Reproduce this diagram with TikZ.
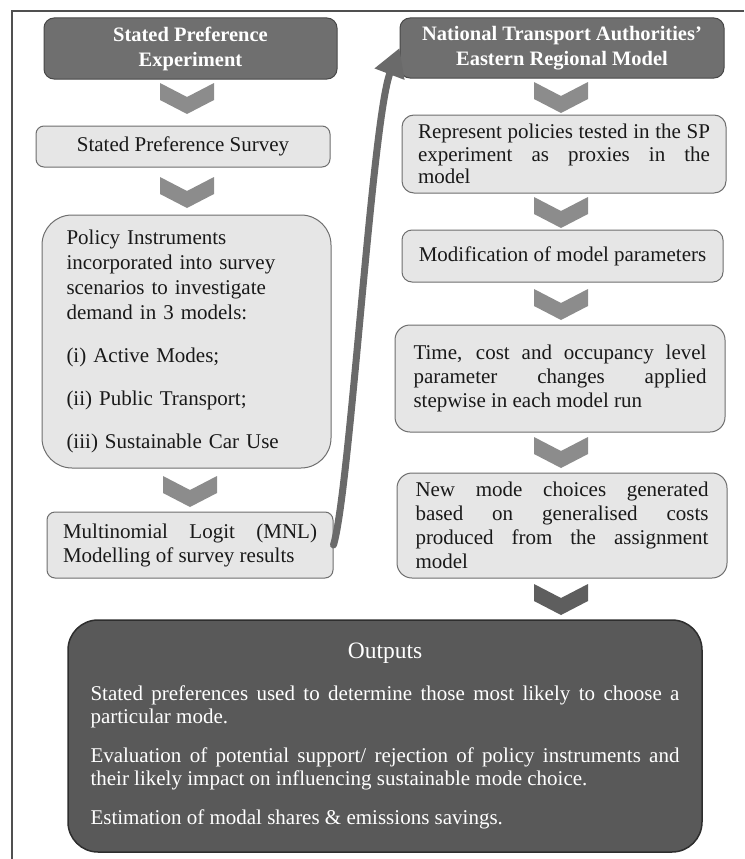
\documentclass[tikz,border=0pt]{standalone}
\usepackage{fontspec}
\setmainfont{Liberation Serif}
\usetikzlibrary{arrows.meta}

\definecolor{darkbox}{HTML}{6F6F6F}
\definecolor{darkedge}{HTML}{484848}
\definecolor{lightbox}{HTML}{E6E6E6}
\definecolor{lightedge}{HTML}{6E6E6E}
\definecolor{chevgray}{HTML}{8C8C8C}
\definecolor{chevdark}{HTML}{5E5E5E}
\definecolor{outfill}{HTML}{595959}
\definecolor{outedge}{HTML}{2E2E2E}
\definecolor{arrowgray}{HTML}{6A6A6A}
\definecolor{framegray}{HTML}{505050}

\tikzset{
  base/.style={draw, line width=1pt, inner sep=0pt},
  headbox/.style={base, fill=darkbox, draw=darkedge, text=white,
    font=\bfseries\fontsize{20.5}{25}\selectfont, align=center, rounded corners=10pt},
  stepbox/.style={base, fill=lightbox, draw=lightedge, text=black!90,
    font=\fontsize{21}{24}\selectfont},
  outbox/.style={base, fill=outfill, draw=outedge, line width=1.5pt, text=white,
    font=\fontsize{21}{23}\selectfont, rounded corners=30pt},
  framerule/.style={draw=framegray, line width=1.6pt},
  connector/.style={draw=arrowgray, line width=7pt, line cap=round,
    -{Triangle[length=28pt,width=30pt]}},
  chevron/.pic={
    \fill[pic actions] (-27,0) -- (0,14) -- (27,0) -- (27,17) -- (0,31) -- (-27,17) -- cycle;
  },
}

\begin{document}
\begin{tikzpicture}[x=1pt, y=-1pt]
\useasboundingbox (0,0) rectangle (744,859);

% outer frame (top and left rules)
\draw[framerule] (744,11) -- (12,11) -- (12,859);

% left column
\node[headbox, minimum width=293pt, minimum height=61pt] (A) at (190.5,48.5)
  {Stated Preference\\Experiment};
\node[stepbox, rounded corners=8pt, minimum width=294pt, minimum height=41pt] (B) at (183,146.5)
  {Stated Preference Survey};
\node[stepbox, rounded corners=30pt, minimum width=289pt, minimum height=253pt,
      text width=240pt, align=left, font=\fontsize{21}{25}\selectfont] (C) at (186.5,341.5)
  {Policy Instruments\\incorporated into survey\\scenarios to investigate\\demand in 3 models:\\[18pt]
   (i) Active Modes;\\[18pt](ii) Public Transport;\\[18pt](iii) Sustainable Car Use};
\node[stepbox, rounded corners=8pt, minimum width=286pt, minimum height=66pt,
      text width=254pt, align=justify] (D) at (190,545)
  {Multinomial Logit (MNL)\linebreak Modelling of survey results};

% right column
\node[headbox, minimum width=324pt, minimum height=60pt] (E) at (562,48)
  {National Transport Authorities’\\Eastern Regional Model};
\node[stepbox, rounded corners=12pt, minimum width=324pt, minimum height=78pt,
      text width=292pt, align=justify, font=\fontsize{21}{22.5}\selectfont] (F) at (564,154)
  {Represent policies tested in the SP\linebreak experiment as proxies in the\linebreak model};
\node[stepbox, rounded corners=10pt, minimum width=321pt, minimum height=52pt] (G) at (562.5,256)
  {Modification of model parameters};
\node[stepbox, rounded corners=15pt, minimum width=330pt, minimum height=107pt,
      text width=293pt, align=justify] (H) at (560,378.5)
  {Time, cost and occupancy level\linebreak parameter changes applied\linebreak stepwise in each model run};
\node[stepbox, rounded corners=15pt, minimum width=330pt, minimum height=105pt,
      text width=293pt, align=justify] (I) at (562,525.5)
  {New mode choices generated\linebreak based on generalised costs\linebreak produced from the assignment\linebreak model};

% outputs
\node[outbox, minimum width=634pt, minimum height=232pt, text width=589pt, align=justify] (J) at (385,736)
  {\makebox[\linewidth]{\fontsize{23.5}{26}\selectfont Outputs}\par\vspace{19pt}
   Stated preferences used to determine those most likely to choose a\linebreak particular mode.\par\vspace{16pt}
   Evaluation of potential support/ rejection of policy instruments and\linebreak their likely impact on influencing sustainable mode choice.\par\vspace{16pt}
   Estimation of modal shares \& emissions savings.};

% chevrons between steps
\pic[fill=chevgray] at (187,83)  {chevron};
\pic[fill=chevgray] at (187,177) {chevron};
\pic[fill=chevgray] at (190,476) {chevron};
\pic[fill=chevgray] at (561,82)  {chevron};
\pic[fill=chevgray] at (561,197) {chevron};
\pic[fill=chevgray] at (561,289) {chevron};
\pic[fill=chevgray] at (561,437) {chevron};
\pic[fill=chevdark] at (561,584) {chevron};

% link from the MNL results to the regional model
\draw[connector] (D.east) .. controls (350,490) and (372,120) .. (E.west);
\end{tikzpicture}
\end{document}
